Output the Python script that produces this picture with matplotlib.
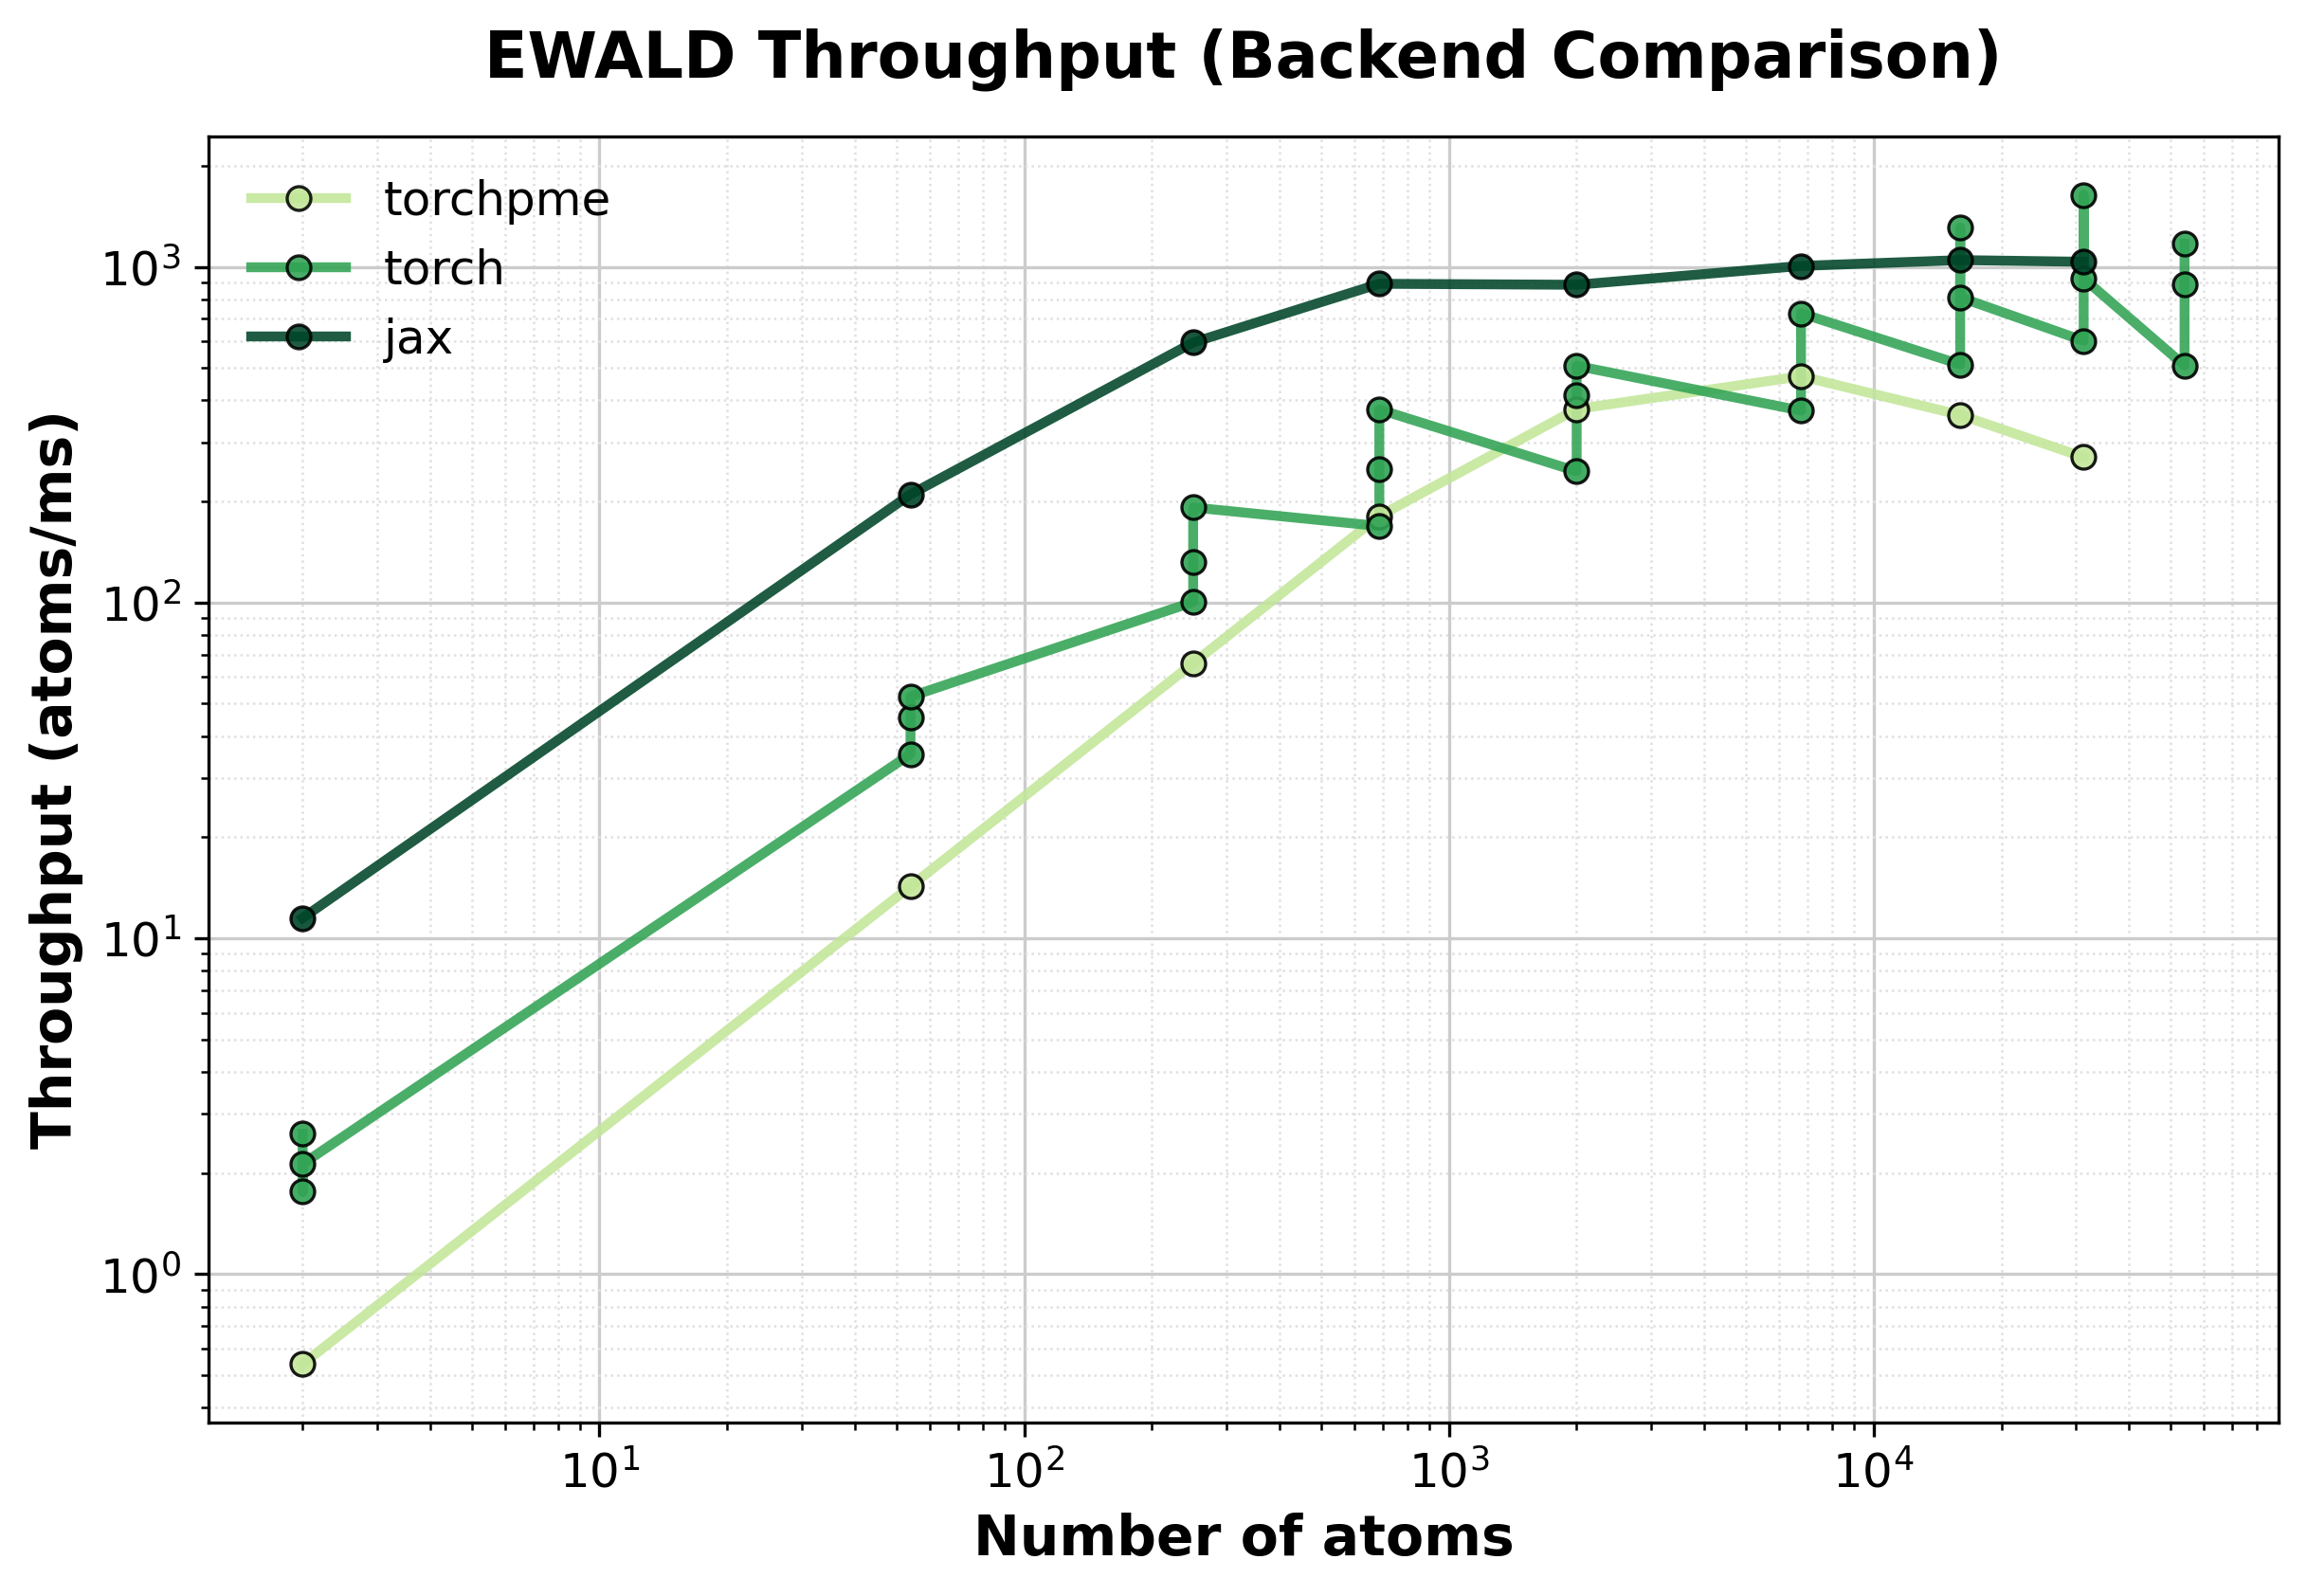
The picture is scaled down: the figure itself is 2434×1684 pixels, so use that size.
import matplotlib
matplotlib.use("Agg")
import matplotlib.pyplot as plt
from matplotlib.lines import Line2D

# system sizes (atoms) and throughput (atoms/ms)
atoms_pme = [2, 54, 250, 686, 2000, 6750, 16000, 31250]
tp_pme = [0.54, 14.3, 66, 181, 377, 472, 362, 271]

atoms_jax = [2, 54, 250, 686, 2000, 6750, 16000, 31250]
tp_jax = [11.5, 210, 595, 890, 884, 1006, 1047, 1035]

# torch has several runs per size, drawn in measurement order
atoms_torch = [2, 2, 2, 54, 54, 54, 250, 250, 250, 686, 686, 686,
               2000, 2000, 2000, 6750, 6750, 16000, 16000, 16000,
               31250, 31250, 31250, 54000, 54000, 54000]
tp_torch = [2.62, 1.76, 2.13, 35.4, 45.5, 52.5, 100.4, 132.5, 192,
            169, 249.5, 376, 246, 414, 507, 373, 727, 512, 1306, 811,
            602, 1637, 923, 508, 888, 1171]

series = [
    ("torchpme", atoms_pme, tp_pme, "#c2e699"),
    ("torch", atoms_torch, tp_torch, "#31a354"),
    ("jax", atoms_jax, tp_jax, "#004529"),
]

fig = plt.figure(figsize=(2434 / 300, 1684 / 300), dpi=300)
ax = fig.add_axes([0.0904, 0.1087, 0.9877 - 0.0904, 0.9145 - 0.1087])

handles = []
for name, x, y, col in series:
    ax.plot(x, y, color=col, lw=2.5, alpha=0.88, zorder=2)
    handles.append(Line2D([], [], color=col, lw=2.5, alpha=0.88, marker="o",
                          ms=6, mfc=col, mec="black", mew=0.8, label=name))
for name, x, y, col in series:
    ax.plot(x, y, ls="none", marker="o", ms=6, mfc=col, mec="black",
            mew=0.8, alpha=0.9, zorder=3)

ax.set_xscale("log")
ax.set_yscale("log")

ax.grid(True, which="major", color="#cccccc", lw=0.8, zorder=0)
ax.grid(True, which="minor", color="#e0e0e0", ls=":", lw=0.6, zorder=0)
ax.set_axisbelow(True)

ax.tick_params(labelsize=12)
ax.set_xlabel("Number of atoms", fontsize=14, fontweight="bold")
ax.set_ylabel("Throughput (atoms/ms)", fontsize=14, fontweight="bold")
ax.set_title("EWALD Throughput (Backend Comparison)", fontsize=16,
             fontweight="bold", pad=15)

ax.legend(handles=handles, loc="upper left", fontsize=12, frameon=False)

fig.savefig("out.png", dpi=300)
